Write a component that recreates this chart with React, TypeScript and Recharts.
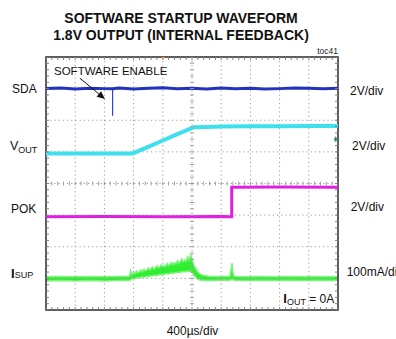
import React from 'react';
import { ComposedChart, Line, Area, Scatter, XAxis, YAxis, ReferenceLine, ReferenceArea } from 'recharts';

// Scope screen: 10 horizontal x 8 vertical divisions
const gridX = [1, 2, 3, 4, 5, 6, 7, 8, 9];
const gridY = [1, 2, 3, 4, 5, 6, 7];
const minorX = Array.from({ length: 51 }, (_, i) => Math.round(i * 2) / 10);
const minorY = Array.from({ length: 41 }, (_, i) => Math.round(i * 2) / 10);

// SDA (dark blue)
const sdaX = [0, 0.5, 1, 1.5, 2, 2.28, 2.5, 3, 3.5, 4, 4.5, 5, 5.5, 6, 6.5, 7, 7.5, 8, 8.5, 9, 9.5, 10];
const sdaY = [7.0, 7.02, 6.99, 7.01, 7.0, 7.0, 7.02, 6.99, 7.01, 7.03, 7.0, 7.01, 6.99, 7.02, 7.0, 7.01, 6.99, 7.0, 7.02, 7.01, 7.0, 7.01];
const sdaGlitchX = [2.28, 2.28];
const sdaGlitchY = [7.0, 6.14];

// VOUT (cyan)
const voutX = [0, 1, 2, 2.97, 3.5, 4, 4.5, 5.07, 5.5, 6, 7, 8, 9, 10];
const voutY = [4.95, 4.95, 4.95, 4.95, 5.16, 5.36, 5.56, 5.78, 5.79, 5.8, 5.81, 5.81, 5.82, 5.82];

// POK (magenta)
const pokX = [0, 2, 4, 6, 6.36, 6.36, 8, 10];
const pokY = [2.95, 2.96, 2.95, 2.96, 2.95, 3.88, 3.89, 3.88];

// ISUP (green) noisy band: low / high edge
const isupX = [
  0, 0.5, 1, 1.5, 2, 2.5, 2.86,
  2.9, 2.95, 3.0, 3.05, 3.1, 3.15, 3.2, 3.25, 3.3, 3.35, 3.4, 3.45, 3.5, 3.55, 3.6, 3.65, 3.7, 3.75, 3.8, 3.85, 3.9, 3.95,
  4.0, 4.05, 4.1, 4.15, 4.2, 4.25, 4.3, 4.35, 4.4, 4.45, 4.5, 4.55, 4.6, 4.65, 4.7, 4.75, 4.8, 4.85, 4.9, 4.95, 5.0,
  5.03, 5.08, 5.14, 5.2, 5.27, 5.36, 5.46, 5.56, 5.75, 6.0, 6.3, 6.34, 6.37, 6.4, 6.44, 6.8, 7.3, 7.8, 8.3, 8.8, 9.3, 9.8, 10,
];
const isupLo = [
  0.92, 0.93, 0.92, 0.93, 0.92, 0.93, 0.93,
  0.95, 0.99, 1.0, 1.0, 1.02, 1.01, 1.03, 1.03, 1.04, 1.05, 1.04, 1.06, 1.07, 1.06, 1.08, 1.08, 1.09, 1.1, 1.09, 1.11, 1.12, 1.11,
  1.13, 1.13, 1.14, 1.15, 1.14, 1.16, 1.17, 1.16, 1.18, 1.18, 1.19, 1.2, 1.19, 1.21, 1.21, 1.22, 1.21, 1.23, 1.22, 1.23, 1.2,
  1.15, 1.08, 1.02, 0.98, 0.95, 0.94, 0.93, 0.93, 0.93, 0.94, 0.94, 0.96, 0.98, 0.96, 0.94, 0.93, 0.94, 0.93, 0.94, 0.93, 0.94, 0.93, 0.94,
];
const isupHi = [
  1.05, 1.06, 1.05, 1.06, 1.05, 1.06, 1.06,
  1.24, 1.12, 1.19, 1.15, 1.23, 1.18, 1.21, 1.27, 1.2, 1.29, 1.24, 1.26, 1.33, 1.27, 1.31, 1.36, 1.29, 1.34, 1.4, 1.33, 1.37, 1.43,
  1.36, 1.41, 1.38, 1.47, 1.4, 1.45, 1.51, 1.43, 1.49, 1.46, 1.56, 1.48, 1.53, 1.61, 1.52, 1.58, 1.55, 1.68, 1.58, 1.74, 1.62,
  1.5, 1.38, 1.3, 1.2, 1.14, 1.1, 1.08, 1.07, 1.06, 1.06, 1.06, 1.3, 1.48, 1.2, 1.06, 1.05, 1.06, 1.05, 1.06, 1.05, 1.06, 1.05, 1.06,
];

// markers / annotation (division units)
const triggerX = [4.02];
const triggerY = [8];
const chMarkX = [9.92];
const chMarkY = [5.4];
const arrowFrom = { x: 1.16, y: 7.33 };
const arrowTo = { x: 2.02, y: 6.67 };

const zipXY = (xs: number[], ys: number[]) => xs.map((x, i) => ({ x, y: ys[i] }));
const sdaData = zipXY(sdaX, sdaY);
const sdaGlitchData = zipXY(sdaGlitchX, sdaGlitchY);
const voutData = zipXY(voutX, voutY);
const pokData = zipXY(pokX, pokY);
const isupData = isupX.map((x, i) => ({ x, lo: isupLo[i], hi: isupHi[i] }));
const hTickData = minorX.map((x) => ({ x, y: 4 }));
const vTickData = minorY.map((y) => ({ x: 5, y }));
const triggerData = zipXY(triggerX, triggerY);
const chMarkData = zipXY(chMarkX, chMarkY);

const VTickShape = (p: any) => (
  <line x1={p.cx} x2={p.cx} y1={p.cy - 2} y2={p.cy + 2} stroke="#a0a0a0" strokeWidth={1} />
);
const HTickShape = (p: any) => (
  <line x1={p.cx - 2} x2={p.cx + 2} y1={p.cy} y2={p.cy} stroke="#a0a0a0" strokeWidth={1} />
);
const TriggerShape = (p: any) => (
  <polygon points={`${p.cx - 3},${p.cy - 3} ${p.cx + 3},${p.cy - 3} ${p.cx},${p.cy + 3}`} fill="#f5a040" />
);
const ChMarkShape = (p: any) => (
  <polygon points={`${p.cx},${p.cy - 3} ${p.cx + 2},${p.cy} ${p.cx},${p.cy + 3} ${p.cx - 2},${p.cy}`} fill="#2a9a88" />
);
const ArrowShape = (p: any) => {
  const { x1, y1, x2, y2 } = p;
  const a = Math.atan2(y2 - y1, x2 - x1);
  const L = 8, w = 3.5;
  const bx = x2 - L * Math.cos(a), by = y2 - L * Math.sin(a);
  const px = -Math.sin(a) * w, py = Math.cos(a) * w;
  return (
    <g>
      <line x1={x1} y1={y1} x2={bx} y2={by} stroke="#111" strokeWidth={1} />
      <polygon points={`${x2},${y2} ${bx + px},${by + py} ${bx - px},${by - py}`} fill="#111" />
    </g>
  );
};
// minor tick marks along the screen edges, placed through the axis scales
const EdgeTickX = (p: any) => (
  <g>
    <line x1={p.cx} x2={p.cx} y1={p.cy} y2={p.cy + 3} stroke="#808080" strokeWidth={1} />
  </g>
);

const font = 'Liberation Sans, Arial, sans-serif';
const ax = { xAxisId: 'b', yAxisId: 'l' } as const;
const topTicks = minorX.map((x) => ({ x, y: 8 }));
const botTicks = minorX.map((x) => ({ x, y: 0 }));
const leftTicks = minorY.map((y) => ({ x: 0, y }));
const rightTicks = minorY.map((y) => ({ x: 10, y }));
const TopTick = (p: any) => <line x1={p.cx} x2={p.cx} y1={p.cy} y2={p.cy + 3} stroke="#808080" strokeWidth={1} />;
const BotTick = (p: any) => <line x1={p.cx} x2={p.cx} y1={p.cy} y2={p.cy - 3} stroke="#808080" strokeWidth={1} />;
const LeftTick = (p: any) => <line x1={p.cx} x2={p.cx + 3} y1={p.cy} y2={p.cy} stroke="#808080" strokeWidth={1} />;
const RightTick = (p: any) => <line x1={p.cx} x2={p.cx - 3} y1={p.cy} y2={p.cy} stroke="#808080" strokeWidth={1} />;

export default function App() {
  return (
    <div style={{ position: 'absolute', left: 0, top: 0, width: 396, height: 339, background: '#fff' }}>
      <ComposedChart width={396} height={339} margin={{ top: 57, right: 58, bottom: 29, left: 46 }}>
        <XAxis xAxisId="b" orientation="bottom" dataKey="x" type="number" domain={[0, 10]} hide allowDataOverflow />
        <YAxis yAxisId="l" orientation="left" dataKey="y" type="number" domain={[0, 8]} hide allowDataOverflow />

        {gridX.map((v) => (
          <ReferenceLine key={'gx' + v} {...ax} x={v} stroke="#9a9a9a" strokeDasharray="1.2 3" />
        ))}
        {gridY.map((v) => (
          <ReferenceLine key={'gy' + v} {...ax} y={v} stroke="#9a9a9a" strokeDasharray="1.2 3" />
        ))}
        <Scatter {...ax} data={hTickData} dataKey="y" shape={VTickShape} isAnimationActive={false} />
        <Scatter {...ax} data={vTickData} dataKey="y" shape={HTickShape} isAnimationActive={false} />
        <Scatter {...ax} data={topTicks} dataKey="y" shape={TopTick} isAnimationActive={false} />
        <Scatter {...ax} data={botTicks} dataKey="y" shape={BotTick} isAnimationActive={false} />
        <Scatter {...ax} data={leftTicks} dataKey="y" shape={LeftTick} isAnimationActive={false} />
        <Scatter {...ax} data={rightTicks} dataKey="y" shape={RightTick} isAnimationActive={false} />

        <Area {...ax} data={isupData} dataKey={(d: any) => [d.lo, d.hi]} type="linear" stroke="#7df57d" strokeWidth={1.5} fill="#30ee30" fillOpacity={1} isAnimationActive={false} />
        <Line {...ax} data={pokData} dataKey="y" type="linear" stroke="#e020e0" strokeWidth={3} dot={false} isAnimationActive={false} />
        <Line {...ax} data={voutData} dataKey="y" type="linear" stroke="#3ee0ee" strokeWidth={4} dot={false} isAnimationActive={false} />
        <Line {...ax} data={sdaGlitchData} dataKey="y" type="linear" stroke="#3344cc" strokeWidth={1.2} dot={false} isAnimationActive={false} />
        <Line {...ax} data={sdaData} dataKey="y" type="linear" stroke="#2233c0" strokeWidth={3} dot={false} isAnimationActive={false} />

        <ReferenceLine {...ax} segment={[arrowFrom, arrowTo]} shape={ArrowShape} />
        <Scatter {...ax} data={chMarkData} dataKey="y" shape={ChMarkShape} isAnimationActive={false} />
        <ReferenceArea {...ax} x1={0} x2={10} y1={0} y2={8} fill="none" stroke="#2a2a2a" strokeWidth={1.5} />
        <Scatter {...ax} data={triggerData} dataKey="y" shape={TriggerShape} isAnimationActive={false} />
      </ComposedChart>

      <svg width={396} height={339} style={{ position: 'absolute', left: 0, top: 0, pointerEvents: 'none' }} fontFamily={font}>
        <text x={181} y={22.7} textAnchor="middle" fontSize={14} fontWeight="bold" fill="#111">SOFTWARE STARTUP WAVEFORM</text>
        <text x={181} y={39.5} textAnchor="middle" fontSize={14} fontWeight="bold" fill="#111">1.8V OUTPUT (INTERNAL FEEDBACK)</text>
        <text x={338} y={54} textAnchor="end" fontSize={8.5} fill="#222">toc41</text>
        <text x={54} y={75} fontSize={11.5} fill="#111">SOFTWARE ENABLE</text>

        <text x={12} y={93.3} fontSize={12} fill="#111">SDA</text>
        <text x={10} y={150} fontSize={12.5} fill="#111">V<tspan fontSize={9} dy={3}>OUT</tspan></text>
        <text x={11} y={213.3} fontSize={12} fill="#111">POK</text>
        <text x={11} y={277.7} fontSize={13} fontWeight="bold" fill="#111">I<tspan fontSize={9} fontWeight="normal" dy={0.5}>SUP</tspan></text>

        <text x={350} y={95} fontSize={12} fill="#111">2V/div</text>
        <text x={352} y={150.3} fontSize={12} fill="#111">2V/div</text>
        <text x={350.7} y={210.5} fontSize={12} fill="#111">2V/div</text>
        <text x={346.7} y={276} fontSize={12} fill="#111">100mA/di</text>

        <text x={166.7} y={335} fontSize={12} fill="#111">400µs/div</text>
        <text x={283.3} y={303.3} fontSize={13} fontWeight="bold" fill="#111">I<tspan fontSize={9} fontWeight="normal" dy={1.5}>OUT</tspan><tspan fontSize={12} fontWeight="normal" dy={-1.5}> = 0A</tspan></text>
      </svg>
    </div>
  );
}
